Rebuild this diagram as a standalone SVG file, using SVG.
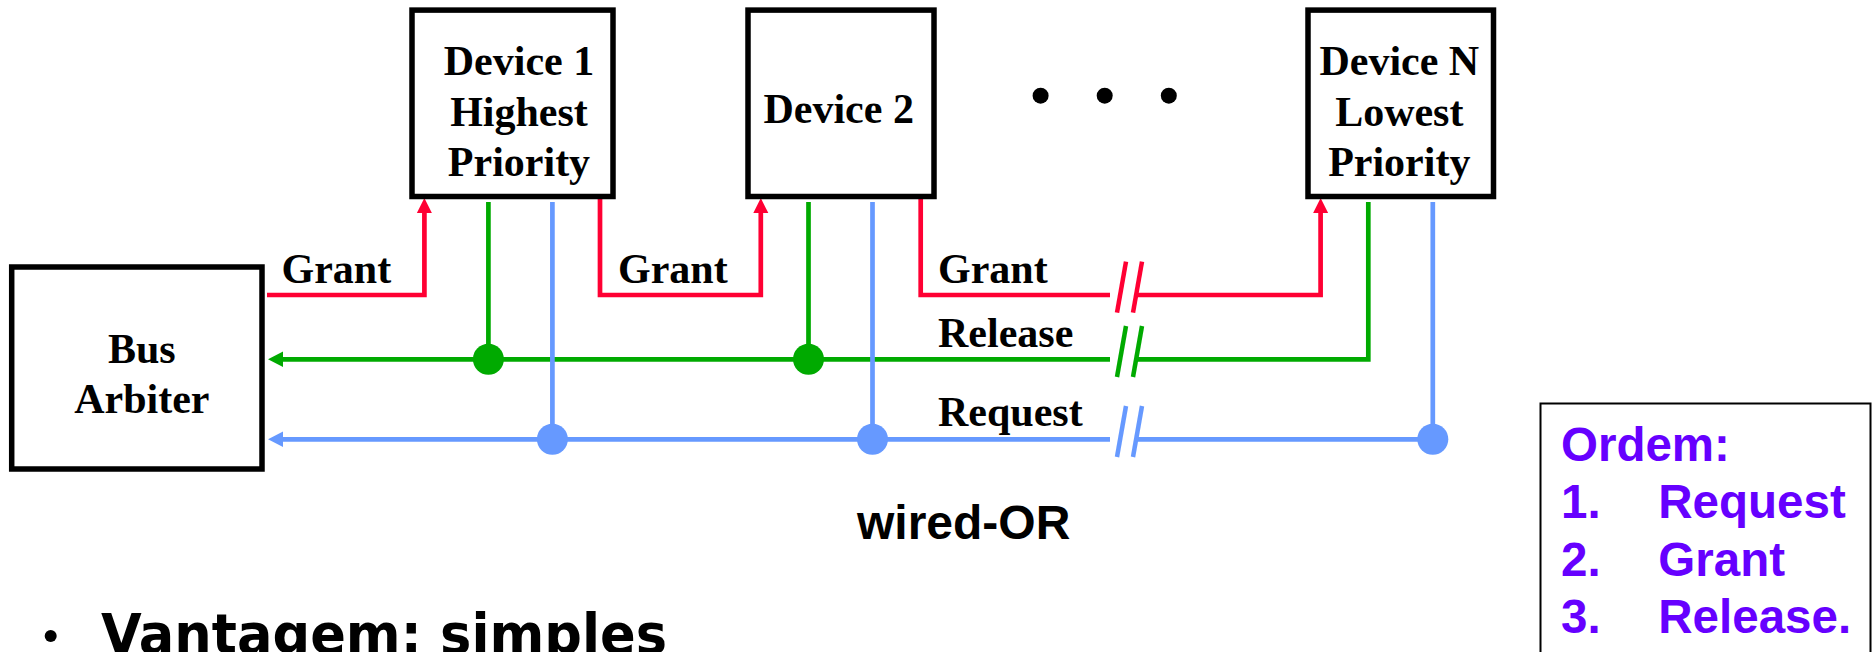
<svg xmlns="http://www.w3.org/2000/svg" width="1872" height="652" viewBox="0 0 1872 652">
  <style>
    .box { fill: #ffffff; stroke: #000000; stroke-width: 5.5; }
    .lbl { font-family: "Liberation Serif", "Times New Roman", serif; font-weight: bold; font-size: 42px; fill: #000000; }
    .mid { text-anchor: middle; }
    .wire { fill: none; stroke-width: 4.7; stroke-linejoin: miter; stroke-linecap: butt; }
    .red { stroke: #FF0033; }
    .green { stroke: #00AA00; }
    .blue { stroke: #6699FF; }
    .brk { stroke-width: 4.5; fill: none; }
    .sans { font-family: "Liberation Sans", Arial, Helvetica, sans-serif; font-weight: bold; }
    .order { font-family: "Liberation Sans", Arial, Helvetica, sans-serif; font-weight: bold; font-size: 47.5px; fill: #6600FF; }
  </style>
  <defs>
    <marker id="arrRed" markerUnits="userSpaceOnUse" markerWidth="16" markerHeight="16" refX="0" refY="7.5" orient="auto" overflow="visible">
      <path d="M0,0 L15,7.5 L0,15 Z" fill="#FF0033"/>
    </marker>
    <marker id="arrGreen" markerUnits="userSpaceOnUse" markerWidth="16" markerHeight="16" refX="0" refY="7.8" orient="auto" overflow="visible">
      <path d="M0,0 L15,7.8 L0,15.6 Z" fill="#00AA00"/>
    </marker>
    <marker id="arrBlue" markerUnits="userSpaceOnUse" markerWidth="16" markerHeight="16" refX="0" refY="7.8" orient="auto" overflow="visible">
      <path d="M0,0 L15,7.8 L0,15.6 Z" fill="#6699FF"/>
    </marker>
  </defs>

  <rect width="1872" height="652" fill="#ffffff"/>

  <!-- bus lines -->
  <g id="connectors">
    <!-- grant daisy chain -->
    <path class="wire red" d="M267,295 H424.4 V213" marker-end="url(#arrRed)"/>
    <path class="wire red" d="M600,199 V295 H760.8 V213" marker-end="url(#arrRed)"/>
    <path class="wire red" d="M920.7,199 V295 H1110"/>
    <path class="wire red" d="M1136,295 H1320.6 V213" marker-end="url(#arrRed)"/>
    <!-- release line -->
    <path class="wire green" d="M1368.3,202 V359.3 H1136"/>
    <path class="wire green" d="M1110,359.3 H283" marker-end="url(#arrGreen)"/>
    <path class="wire green" d="M488.4,202 V359.3"/>
    <path class="wire green" d="M808.5,202 V359.3"/>
    <!-- request line (wired-OR) -->
    <path class="wire blue" d="M1432.8,202 V439.3 H1136"/>
    <path class="wire blue" d="M1110,439.3 H283" marker-end="url(#arrBlue)"/>
    <path class="wire blue" d="M552.4,202 V439.3"/>
    <path class="wire blue" d="M872.5,202 V439.3"/>
    <!-- junctions -->
    <circle cx="488.4" cy="359.3" r="15.5" fill="#00AA00"/>
    <circle cx="808.5" cy="359.3" r="15.5" fill="#00AA00"/>
    <circle cx="552.4" cy="439.3" r="15.5" fill="#6699FF"/>
    <circle cx="872.5" cy="439.3" r="15.5" fill="#6699FF"/>
    <circle cx="1432.8" cy="439.3" r="15.5" fill="#6699FF"/>
    <!-- line breaks -->
    <g class="brk red">
      <line x1="1117" y1="312.7" x2="1126" y2="261.7"/>
      <line x1="1133" y1="312.7" x2="1142" y2="261.7"/>
    </g>
    <g class="brk green">
      <line x1="1117" y1="377" x2="1126" y2="326"/>
      <line x1="1133" y1="377" x2="1142" y2="326"/>
    </g>
    <g class="brk blue">
      <line x1="1117" y1="457" x2="1126" y2="406"/>
      <line x1="1133" y1="457" x2="1142" y2="406"/>
    </g>
    <!-- line labels -->
    <text class="lbl" x="281.5" y="283">Grant</text>
    <text class="lbl" x="618" y="283">Grant</text>
    <text class="lbl" x="938" y="283">Grant</text>
    <text class="lbl" x="938" y="346.7">Release</text>
    <text class="lbl" x="938" y="426">Request</text>
  </g>

  <g id="bus-arbiter">
    <rect class="box" x="11.7" y="267" width="250.3" height="202"/>
    <text class="lbl mid" x="141.8" y="362.7">Bus</text>
    <text class="lbl mid" x="141.8" y="413">Arbiter</text>
  </g>

  <g id="device-1">
    <rect class="box" x="412" y="10.1" width="201" height="186.4"/>
    <text class="lbl mid" x="519" y="75">Device 1</text>
    <text class="lbl mid" x="519" y="126">Highest</text>
    <text class="lbl mid" x="519" y="176">Priority</text>
  </g>

  <g id="device-2">
    <rect class="box" x="748" y="10.1" width="186" height="186.4"/>
    <text class="lbl mid" x="838.7" y="123.3">Device 2</text>
  </g>

  <g id="ellipsis">
    <circle cx="1040.6" cy="95.7" r="8"/>
    <circle cx="1104.7" cy="95.7" r="8"/>
    <circle cx="1168.8" cy="95.7" r="8"/>
  </g>

  <g id="device-n">
    <rect class="box" x="1308" y="10.1" width="185.5" height="186.4"/>
    <text class="lbl mid" x="1399.3" y="75">Device N</text>
    <text class="lbl mid" x="1399.3" y="126">Lowest</text>
    <text class="lbl mid" x="1399.3" y="176">Priority</text>
  </g>

  <text id="wired-or" class="sans" x="857" y="539" font-size="48" fill="#000000">wired-OR</text>

  <g id="order-note">
    <rect x="1540.5" y="403.5" width="330" height="300" fill="#ffffff" stroke="#000000" stroke-width="2"/>
    <text class="order" x="1561" y="461">Ordem:</text>
    <text class="order" x="1561" y="517.7">1.</text>
    <text class="order" x="1658.3" y="517.7">Request</text>
    <text class="order" x="1561" y="576">2.</text>
    <text class="order" x="1658.3" y="576">Grant</text>
    <text class="order" x="1561" y="633.3">3.</text>
    <text class="order" x="1658.3" y="633.3">Release.</text>
  </g>

  <g id="bullet-text">
    <circle cx="50.7" cy="636" r="6"/>
    <text x="101" y="653" font-family="'Comic Sans MS', 'DejaVu Sans', sans-serif" font-weight="bold" font-size="56" textLength="566" lengthAdjust="spacingAndGlyphs" fill="#000000">Vantagem: simples</text>
  </g>
</svg>
